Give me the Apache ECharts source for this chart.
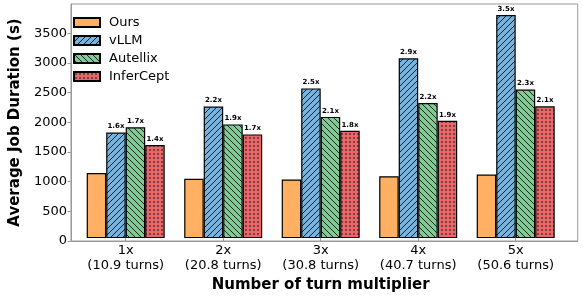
<!DOCTYPE html>
<html>
<head>
<meta charset="utf-8">
<script src="https://cdn.jsdelivr.net/npm/echarts@6/dist/echarts.min.js"></script>
<style>
html,body{margin:0;padding:0;background:#fff;}
#chart{width:583px;height:298px;}
</style>
</head>
<body>
<div id="chart"></div>
<script>
// ---- data ----
const multipliers = ['1x', '2x', '3x', '4x', '5x'];
const turns = ['(10.9 turns)', '(20.8 turns)', '(30.8 turns)', '(40.7 turns)', '(50.6 turns)'];
const seriesNames = ['Ours', 'vLLM', 'Autellix', 'InferCept'];
const ours      = [1112, 1011, 1000, 1056, 1084];
const vllm      = [1800, 2245, 2555, 3068, 3806];
const autellix  = [1890, 1940, 2068, 2305, 2535];
const infercept = [1590, 1770, 1833, 2002, 2248];
const vllmRatio      = ['1.6x', '2.2x', '2.5x', '2.9x', '3.5x'];
const autellixRatio  = ['1.7x', '1.9x', '2.1x', '2.2x', '2.3x'];
const inferceptRatio = ['1.4x', '1.7x', '1.8x', '1.9x', '2.1x'];
const yTicks = [0, 500, 1000, 1500, 2000, 2500, 3000, 3500];
const yMax = 3995;

const categories = multipliers.map((m, i) => m + '\n' + turns[i]);
const FONT = 'DejaVu Sans';

function makePattern(base, kind) {
  const s = kind === 'dots' ? 4 : 6;
  const c = document.createElement('canvas');
  c.width = s; c.height = s;
  const g = c.getContext('2d');
  g.fillStyle = base; g.fillRect(0, 0, s, s);
  g.strokeStyle = 'rgba(0,0,0,0.85)';
  g.fillStyle = 'rgba(0,0,0,0.85)';
  g.lineWidth = 0.95;
  if (kind === 'fwd') {
    g.beginPath();
    g.moveTo(-1, s + 1); g.lineTo(s + 1, -1);
    g.moveTo(-1, 1); g.lineTo(1, -1);
    g.moveTo(s - 1, s + 1); g.lineTo(s + 1, s - 1);
    g.stroke();
  } else if (kind === 'back') {
    g.beginPath();
    g.moveTo(-1, -1); g.lineTo(s + 1, s + 1);
    g.moveTo(s - 1, -1); g.lineTo(s + 1, 1);
    g.moveTo(-1, s - 1); g.lineTo(1, s + 1);
    g.stroke();
  } else if (kind === 'dots') {
    g.fillRect(1.3, 1.3, 1.4, 1.4);
  }
  return { image: c, repeat: 'repeat' };
}

const colOurs = '#ffb062';
const colVllm = makePattern('#7ab2d9', 'fwd');
const colAut  = makePattern('#7ecb95', 'back');
const colInf  = makePattern('#e8686a', 'dots');

const labelStyle = (arr) => ({
  show: true,
  position: 'top',
  distance: 2.5,
  fontFamily: FONT,
  fontSize: 7,
  fontWeight: 'bold',
  color: '#000',
  formatter: (p) => arr[p.dataIndex]
});

const edge = { borderColor: '#000', borderWidth: 1.2 };

const chart = echarts.init(document.getElementById('chart'), null, { renderer: 'canvas' });
chart.setOption({
  animation: false,
  textStyle: { fontFamily: FONT },
  grid: [
    { left: 62, right: 5.3, top: 4, bottom: 57, show: true, borderColor: '#999', borderWidth: 1, backgroundColor: 'transparent' },
    { left: 76.95, right: 18.55, top: 4, bottom: 57 }
  ],
  legend: {
    orient: 'vertical',
    left: 73,
    top: 16,
    padding: 0,
    itemWidth: 26,
    itemHeight: 9,
    itemGap: 5,
    icon: 'rect',
    data: seriesNames,
    textStyle: { fontFamily: FONT, fontSize: 13, lineHeight: 13, color: '#000', padding: [0, 0, 0, 4] }
  },
  xAxis: [
    { type: 'value', gridIndex: 0, min: 0, max: 1, axisLine: { show: true, lineStyle: { color: '#999', width: 1 } }, axisTick: { show: false }, axisLabel: { show: false }, splitLine: { show: false } },
    {
      type: 'category', gridIndex: 1, data: categories,
      axisLine: { show: false },
      axisTick: { show: true, alignWithLabel: true, length: 3.5, lineStyle: { color: '#999' } },
      axisLabel: { fontFamily: FONT, fontSize: 13, lineHeight: 15, color: '#000', margin: 5, interval: 0 },
      name: 'Number of turn multiplier',
      nameLocation: 'middle',
      nameGap: 33,
      nameTextStyle: { fontFamily: FONT, fontSize: 15, fontWeight: 'bold', color: '#000' }
    }
  ],
  yAxis: [
    {
      type: 'value', gridIndex: 0, min: 0, max: yMax,
      axisLine: { show: true, lineStyle: { color: '#999', width: 1 } },
      axisTick: { show: true, length: 3.5, lineStyle: { color: '#999' }, customValues: yTicks },
      axisLabel: { fontFamily: FONT, fontSize: 13, color: '#000', margin: 4, customValues: yTicks, formatter: (v) => String(v) },
      splitLine: { show: false },
      name: 'Average Job Duration (s)',
      nameLocation: 'middle',
      nameGap: 40,
      nameTextStyle: { fontFamily: FONT, fontSize: 15, fontWeight: 'bold', color: '#000' }
    },
    { type: 'value', gridIndex: 1, min: 0, max: yMax, show: false, splitLine: { show: false } }
  ],
  series: [
    { name: 'Ours', type: 'bar', xAxisIndex: 1, yAxisIndex: 1, data: ours, barGap: '0%', barCategoryGap: '20%', itemStyle: Object.assign({ color: colOurs }, edge) },
    { name: 'vLLM', type: 'bar', xAxisIndex: 1, yAxisIndex: 1, data: vllm, barGap: '0%', barCategoryGap: '20%', itemStyle: Object.assign({ color: colVllm }, edge), label: labelStyle(vllmRatio) },
    { name: 'Autellix', type: 'bar', xAxisIndex: 1, yAxisIndex: 1, data: autellix, barGap: '0%', barCategoryGap: '20%', itemStyle: Object.assign({ color: colAut }, edge), label: labelStyle(autellixRatio) },
    { name: 'InferCept', type: 'bar', xAxisIndex: 1, yAxisIndex: 1, data: infercept, barGap: '0%', barCategoryGap: '20%', itemStyle: Object.assign({ color: colInf }, edge), label: labelStyle(inferceptRatio) }
  ]
});
</script>
</body>
</html>
